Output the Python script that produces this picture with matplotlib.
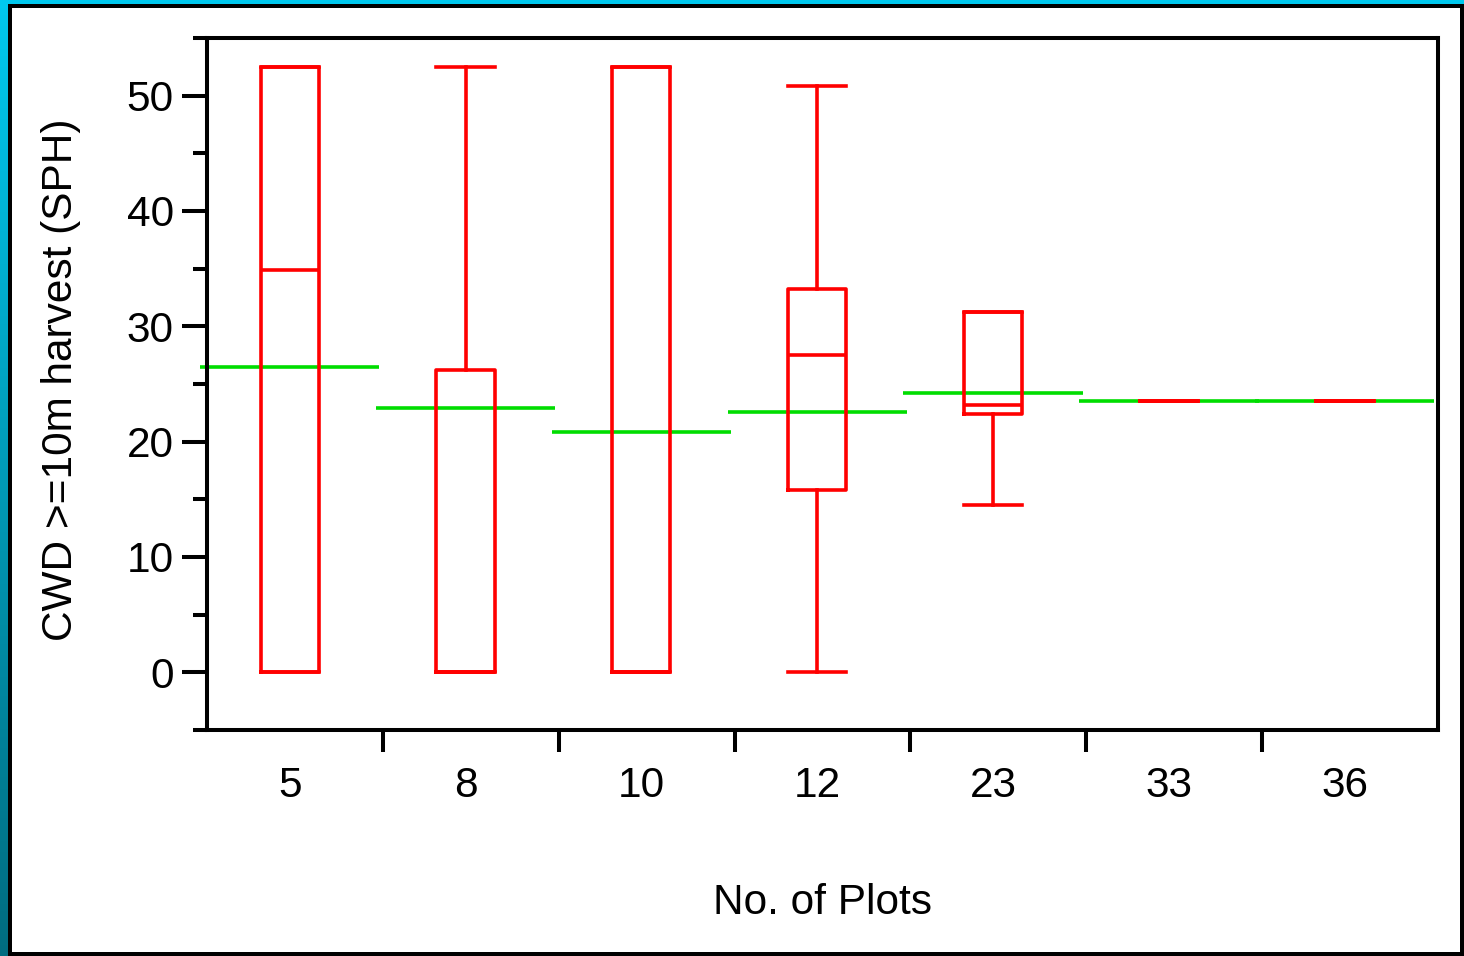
import numpy as np
import matplotlib
matplotlib.use("Agg")
import matplotlib.pyplot as plt
from matplotlib.patches import Rectangle

plt.rcParams['font.family'] = ['Liberation Sans', 'DejaVu Sans']

# ---- data ----
plots = ["5", "8", "10", "12", "23", "33", "36"]
whis_lo = [0.0, 0.0, 0.0, 0.0, 14.5, 23.5, 23.5]
q1 = [0.0, 0.0, 0.0, 15.8, 22.4, 23.5, 23.5]
medians = [34.9, 0.0, 0.0, 27.5, 23.2, 23.5, 23.5]
q3 = [52.5, 26.2, 52.5, 33.2, 31.2, 23.5, 23.5]
whis_hi = [52.5, 52.5, 52.5, 50.8, 31.2, 23.5, 23.5]
means = [26.5, 22.9, 20.85, 22.55, 24.2, 23.5, 23.5]

RED = "#ff0000"
GREEN = "#00dd00"
W, H = 1464, 956
FS = 30.5

fig = plt.figure(figsize=(W / 100, H / 100), dpi=100)
fig.patch.set_facecolor("white")

# frame: cyan top strip, gradient left strip, black border
fig.add_artist(Rectangle((0, 1 - 4 / H), 1, 4 / H, transform=fig.transFigure,
                         facecolor="#00c8ee", edgecolor="none", zorder=0))
grad_ax = fig.add_axes([0, 0, 8 / W, 1 - 4 / H])
grad_ax.axis("off")
grad = np.linspace(0, 1, 256).reshape(-1, 1)
top_c = np.array([0, 200, 238]) / 255
bot_c = np.array([0, 108, 128]) / 255
img = top_c * (1 - grad[..., None]) + bot_c * grad[..., None]
grad_ax.imshow(img, aspect="auto")
fig.add_artist(Rectangle((8 / W, 0), 1 - 8 / W, 1 - 4 / H, transform=fig.transFigure,
                         facecolor="black", edgecolor="none", zorder=0))
fig.add_artist(Rectangle((12 / W, 4 / H), 1 - 16 / W, 1 - 12 / H, transform=fig.transFigure,
                         facecolor="white", edgecolor="none", zorder=0))

ax = fig.add_axes([207 / W, 1 - 730 / H, (1438 - 207) / W, (730 - 38) / H])
ax.set_facecolor("none")

centers = np.arange(len(plots)) + 0.47
stats = []
for i in range(len(plots)):
    stats.append(dict(whislo=whis_lo[i], q1=q1[i], med=medians[i],
                      q3=q3[i], whishi=whis_hi[i], fliers=[]))

lw_red = 2.6
ax.bxp(stats, positions=centers, widths=0.33, capwidths=0.33,
       showfliers=False, manage_ticks=False,
       boxprops=dict(color=RED, linewidth=lw_red),
       whiskerprops=dict(color=RED, linewidth=lw_red),
       capprops=dict(color=RED, linewidth=lw_red),
       medianprops=dict(color=RED, linewidth=lw_red),
       zorder=4)

# group means as green lines across each category
ax.hlines(means, centers - 0.51, centers + 0.51, colors=GREEN,
          linewidth=2.6, zorder=3, clip_on=False)

ax.set_xlim(0, 7)
ax.set_ylim(-4.9, 54.9)

for s in ax.spines.values():
    s.set_linewidth(2.9)
    s.set_zorder(6)

ax.set_yticks(np.arange(0, 51, 10))
ax.set_yticks(np.arange(-5, 56, 10), minor=True)
ax.tick_params(axis="y", which="major", direction="out", length=18, width=2.9,
               labelsize=FS, pad=6)
ax.tick_params(axis="y", which="minor", direction="out", length=10, width=2.9)

ax.set_xticks(np.arange(1, 7))
ax.set_xticklabels([])
ax.set_xticks(centers, minor=True)
ax.set_xticklabels(plots, minor=True)
ax.tick_params(axis="x", which="major", direction="out", length=16, width=2.9)
ax.tick_params(axis="x", which="minor", length=0, labelsize=FS, pad=26)

ax.set_ylabel("CWD >=10m harvest (SPH)", fontsize=FS)
ax.yaxis.set_label_coords(-0.119, 0.506)
ax.yaxis.label.set_va("center")
ax.set_xlabel("No. of Plots", fontsize=FS)
ax.xaxis.set_label_coords(0.4996, -0.25)
ax.xaxis.label.set_va("center")

fig.savefig("out.png", dpi=100)
